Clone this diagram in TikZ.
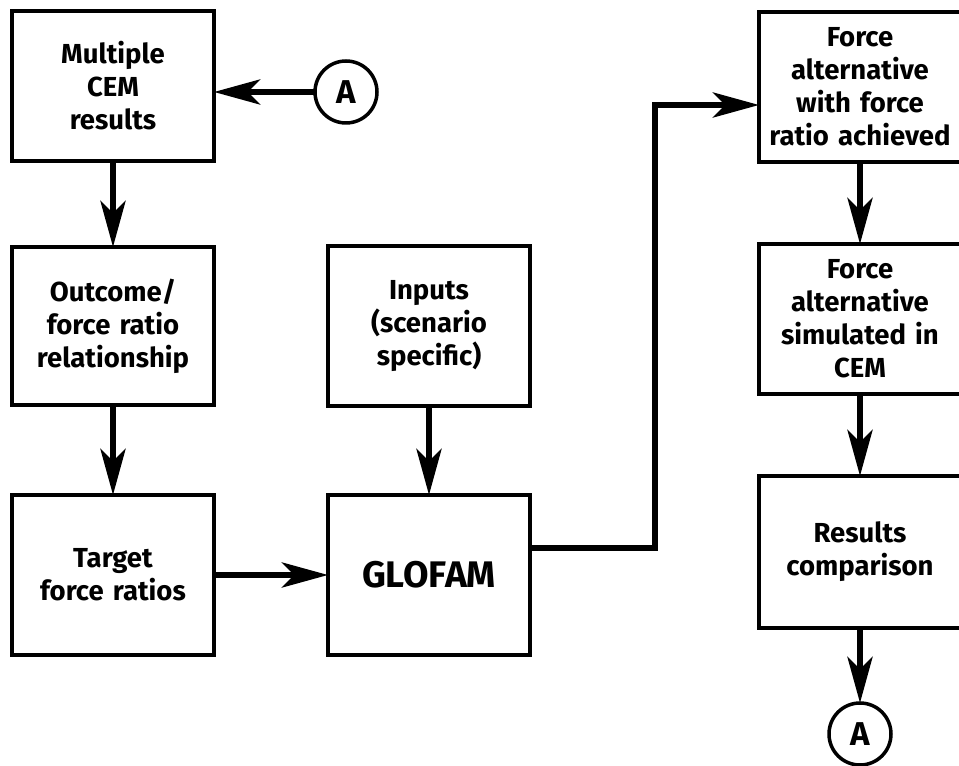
\documentclass[tikz,border=0pt]{standalone}
\usepackage{fontspec}
\setmainfont{Fira Sans}
\usetikzlibrary{
    arrows.meta,
    positioning
}

\begin{document}
\begin{tikzpicture}[
    x=1pt,
    y=1pt,
    >={Stealth[length=46pt,width=25pt,inset=12pt]},
    block/.style={
        rectangle,
        draw,
        line width=4pt,
        outer sep=0pt,
        inner sep=4pt,
        align=center,
        text width=192pt,
        minimum width=202pt,
        minimum height=156pt,
        font=\bfseries\fontsize{27.5}{33}\selectfont
    },
    connector/.style={
        circle,
        draw,
        line width=3.5pt,
        outer sep=0pt,
        inner sep=0pt,
        minimum size=62pt,
        font=\bfseries\fontsize{33}{33}\selectfont
    },
    flow/.style={
        ->,
        line width=6pt
    }
]

\useasboundingbox (0,0) rectangle (959,766);

%--------------------------------------------------
\node[block,minimum height=150pt] (multi) at (113,680)
{
Multiple\\CEM\\results
};

\node[connector,right=101pt of multi,yshift=-6pt] (circA)
{
A
};

\node[block,below=86pt of multi,minimum height=158pt] (outcome)
{
Outcome/\\force ratio\\relationship
};

\node[block,below=90pt of outcome,minimum height=160pt] (target)
{
Target\\force ratios
};

\node[block,right=114pt of outcome,minimum height=160pt] (inputs)
{
Inputs\\(scenario\\specific)
};

\node[block,right=114pt of target,minimum height=160pt,
      font=\bfseries\fontsize{37}{40}\selectfont] (glofam)
{
GLOFAM
};

% right column
\node[block,minimum height=150pt] (force1) at (860,679)
{
Force\\alternative\\with force\\ratio achieved
};

\node[block,below=82pt of force1,minimum height=150pt] (force2)
{
Force\\alternative\\simulated in\\CEM
};

\node[block,below=82pt of force2,minimum height=152pt] (results)
{
Results\\comparison
};

\node[connector,below=75pt of results] (circB)
{
A
};

%--------------------------------------------------
\draw[flow] (circA) -- (circA -| multi.east);
\draw[flow] (multi) -- (outcome);
\draw[flow] (outcome) -- (target);
\draw[flow] (inputs) -- (glofam);
\draw[flow] (target) -- (glofam);

\draw[flow] ([yshift=27pt]glofam.east) -- ++(125pt,0) |- ([yshift=-18pt]force1.west);

\draw[flow] (force1) -- (force2);
\draw[flow] (force2) -- (results);
\draw[flow] (results) -- (circB);

\end{tikzpicture}
\end{document}
